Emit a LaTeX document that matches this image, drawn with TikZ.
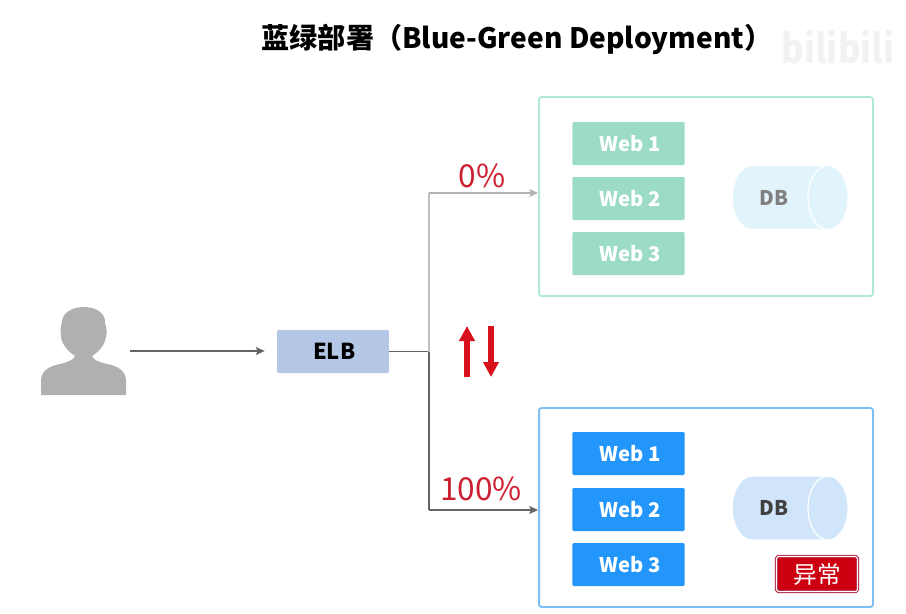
\documentclass[tikz,border=0pt]{standalone}
\usepackage{xcolor}
\usepackage{fontspec}
\setmainfont{Noto Sans CJK SC}
\usepackage{tikz}
\usetikzlibrary{shapes.geometric, arrows.meta, positioning}
\definecolor{myred}{RGB}{204,32,48}
\definecolor{swapred}{RGB}{216,16,28}
\definecolor{mygray}{RGB}{176,176,176}
\definecolor{mydark}{RGB}{100,100,100}
\definecolor{hdrgreen}{RGB}{156,220,198}
\definecolor{hdrblue}{RGB}{34,150,250}
\definecolor{edgegreen}{RGB}{178,232,220}
\definecolor{edgeblue}{RGB}{125,190,245}
\definecolor{elbblue}{RGB}{180,199,231}
\definecolor{dbgreen}{RGB}{226,244,251}
\definecolor{dbblue}{RGB}{208,229,249}
\definecolor{tagred}{RGB}{204,0,17}
\definecolor{tagedge}{RGB}{176,32,64}
\tikzset{
  panel/.style={rectangle, fill=white, line width=1.1pt, rounded corners=1.5pt,
    minimum width=6.68cm, minimum height=3.98cm},
  web/.style={rectangle, text=white, minimum width=2.25cm, minimum height=0.86cm,
    font=\fontsize{11.5}{11.5}\selectfont\bfseries, rounded corners=0.8pt},
  elb/.style={rectangle, fill=elbblue, minimum width=2.24cm, minimum height=0.86cm,
    font=\fontsize{12.5}{12.5}\selectfont\bfseries, rounded corners=0.8pt},
  db/.style={cylinder, draw=white, line width=0.7pt, aspect=1.5, minimum width=1.28cm,
    minimum height=2.32cm, font=\fontsize{11.5}{11.5}\selectfont\bfseries},
  percent/.style={text=myred, font=\fontsize{18}{18}\selectfont},
  line/.style={line width=1pt},
  arrow/.style={-{Stealth[length=5pt,width=4.5pt,inset=1pt]}, line width=0.8pt},
  swap/.style={-{Triangle[length=0.3cm,width=0.3cm]}, swapred, line width=0.11cm}
}
\begin{document}
\begin{tikzpicture}[x=0.02cm, y=-0.02cm]
  \useasboundingbox (0,0) rectangle (906,613);

  % Title and watermark
  \node[font=\fontsize{16}{16}\selectfont\bfseries] (title) at (517,39) {蓝绿部署（Blue-Green Deployment）};
  \node[text=black!5, font=\fontsize{23}{23}\selectfont\bfseries, xscale=0.85] (mark) at (838,47) {bilibili};

  % User
  \fill[mygray] (41,395) -- (41,381) .. controls (41,370) and (50,366) .. (60,364)
    .. controls (68,362) and (74,360) .. (75,356) .. controls (66,350) and (61,342) .. (61,336)
    .. controls (60,330) and (61,325) .. (62,322) .. controls (62,313) and (72,307) .. (84,307)
    .. controls (97,307) and (106,314) .. (105,323) .. controls (107,328) and (107,333) .. (106,337)
    .. controls (105,344) and (100,351) .. (92,356) .. controls (93,360) and (99,362) .. (107,364)
    .. controls (118,366) and (126,371) .. (126,381) -- (126,395) -- cycle;
  \coordinate (user) at (130,351);

  % Load balancer
  \node[elb] (lb) at (333,351.5) {\hspace{0.05cm}ELB};
  \coordinate (bus) at (429,351.5);
  \coordinate (bustop) at (429,193);
  \coordinate (busbot) at (429,510);

  % Green side
  \node[panel, draw=edgegreen] (green) at (706,196.5) {};
  \node[web, fill=hdrgreen] (gweb1) at (628.5,143.5) {\hspace{0.08cm}Web 1};
  \node[web, fill=hdrgreen] (gweb2) at (628.5,198.5) {\hspace{0.08cm}Web 2};
  \node[web, fill=hdrgreen] (gweb3) at (628.5,253.5) {\hspace{0.08cm}Web 3};
  \node[db, fill=dbgreen, text=black!50] (gdb) at (774,197.5) {DB};

  % Blue side
  \node[panel, draw=edgeblue] (blue) at (706,507.5) {};
  \node[web, fill=hdrblue] (bweb1) at (628.5,453.5) {\hspace{0.08cm}Web 1};
  \node[web, fill=hdrblue] (bweb2) at (628.5,509.5) {\hspace{0.08cm}Web 2};
  \node[web, fill=hdrblue] (bweb3) at (628.5,564.5) {\hspace{0.08cm}Web 3};
  \node[db, fill=dbblue, text=black!75] (bdb) at (774,508) {DB};
  \node[rectangle, draw=tagedge, double=white, double distance=0.6pt, fill=tagred,
    line width=0.6pt, text=white, minimum width=1.62cm, minimum height=0.7cm, rounded corners=1pt,
    font=\fontsize{13.5}{13.5}\selectfont] (tag) at (817,574) {异常};

  % Connectors
  \draw[arrow, mydark] (user) -- ([xshift=-0.24cm]lb.west |- user);
  \draw[line, mydark] (lb.east) -- (bus);
  \draw[line, black!25] (bus) -- (bustop);
  \draw[arrow, black!30] (bustop) -- (bustop -| green.west);
  \draw[line, mydark] (bus) -- (busbot);
  \draw[arrow, mydark] (busbot) -- (busbot -| blue.west);

  % Percent labels
  \node[percent] (p0) at (482,176) {0\%};
  \node[percent] (p100) at (481,489) {100\%};

  % Traffic switch
  \coordinate (upa) at (467,377);
  \coordinate (upb) at (467,326);
  \coordinate (downa) at (491,326);
  \coordinate (downb) at (491,377);
  \draw[swap] (upa) -- (upb);
  \draw[swap] (downa) -- (downb);
\end{tikzpicture}
\end{document}
